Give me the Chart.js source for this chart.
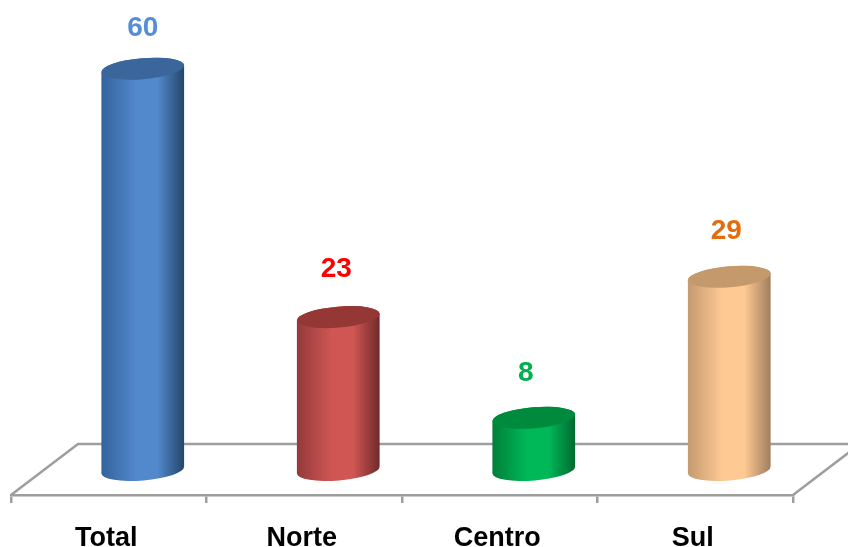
<!DOCTYPE html>
<html>
<head>
<meta charset="utf-8">
<style>html,body{margin:0;padding:0;background:#fff}canvas{display:block}</style>
<script src="https://cdn.jsdelivr.net/npm/chart.js@4/dist/chart.umd.js"></script>
</head>
<body>
<canvas id="c" width="848" height="547"></canvas>
<script>
const categories = ['Total', 'Norte', 'Centro', 'Sul'];
const values = [60, 23, 8, 29];
const labelColors = ['#558ED5', '#FF0000', '#00B050', '#E46C0A'];
const bodyMid = ['#5288CC', '#CF5653', '#00B858', '#FFC993'];
const bodyLeft = ['#33639B', '#93393A', '#007F3A', '#C49A70'];
const bodyRight = ['#234669', '#6F2A29', '#00692F', '#A07E5E'];
const topColors = ['#3A669C', '#953735', '#008A3E', '#C49A6C'];
const labelShiftX = [0, -2, -8, -3];
const labelShiftY = [-40, -48, -45, -46];

const DEPTH_X = 67, DEPTH_Y = 51, BAR_SHIFT = 34, BAR_TILT = -0.084, ELLIPSE_RY = 10.5, BASE_LIFT = 1.5;

Chart.BarElement.prototype.draw = function (ctx) {
  const i = this.$context.dataIndex;
  const cx = this.x + BAR_SHIFT, rx = this.width / 2;
  const topY = this.y, botY = this.base - BASE_LIFT;
  const g = ctx.createLinearGradient(cx - rx, 0, cx + rx, 0);
  g.addColorStop(0, bodyLeft[i]);
  g.addColorStop(0.42, bodyMid[i]);
  g.addColorStop(0.68, bodyMid[i]);
  g.addColorStop(1, bodyRight[i]);
  ctx.save();
  ctx.fillStyle = g;
  ctx.beginPath();
  ctx.ellipse(cx, topY, rx, ELLIPSE_RY, BAR_TILT, Math.PI, 0, false);
  ctx.ellipse(cx, botY, rx, ELLIPSE_RY, BAR_TILT, 0, Math.PI, false);
  ctx.closePath();
  ctx.fill();
  ctx.fillStyle = topColors[i];
  ctx.beginPath();
  ctx.ellipse(cx, topY, rx, ELLIPSE_RY, BAR_TILT, 0, Math.PI * 2);
  ctx.fill();
  ctx.restore();
};

const floorPlugin = {
  id: 'floor',
  beforeDatasetsDraw(chart) {
    const { ctx, scales: { x } } = chart;
    const y = x.top;
    ctx.save();
    ctx.strokeStyle = '#9E9E9E';
    ctx.lineWidth = 2.5;
    ctx.beginPath();
    ctx.moveTo(x.left, y);
    ctx.lineTo(x.left + DEPTH_X, y - DEPTH_Y);
    ctx.lineTo(x.right + DEPTH_X, y - DEPTH_Y);
    ctx.lineTo(x.right, y);
    ctx.stroke();
    ctx.restore();
  }
};

const valueLabels = {
  id: 'valueLabels',
  afterDatasetsDraw(chart) {
    const { ctx } = chart;
    ctx.save();
    ctx.font = 'bold 28px "Liberation Sans", Arial, sans-serif';
    ctx.textAlign = 'center';
    ctx.textBaseline = 'middle';
    chart.getDatasetMeta(0).data.forEach((el, i) => {
      ctx.fillStyle = labelColors[i];
      ctx.fillText(String(values[i]), el.x + BAR_SHIFT + labelShiftX[i], el.y + labelShiftY[i]);
    });
    ctx.restore();
  }
};

new Chart(document.getElementById('c'), {
  type: 'bar',
  data: {
    labels: categories,
    datasets: [{ data: values, barThickness: 83, backgroundColor: bodyMid }]
  },
  plugins: [floorPlugin, valueLabels],
  options: {
    responsive: false,
    animation: false,
    layout: { padding: { left: 11, right: 55, top: 15, bottom: 0 } },
    plugins: { legend: { display: false }, tooltip: { enabled: false } },
    scales: {
      x: {
        afterFit(s) { s.height = 52; },
        grid: { offset: true, drawOnChartArea: false, color: '#9E9E9E', lineWidth: 2.5, tickLength: 8 },
        border: { display: true, color: '#9E9E9E', width: 2.5 },
        ticks: {
          color: '#000',
          padding: 19,
          labelOffset: -2.5,
          maxRotation: 0,
          font: { family: '"Liberation Sans", Arial, sans-serif', size: 27, weight: 'bold' }
        }
      },
      y: { display: false, min: -3.5, max: 68 }
    }
  }
});
</script>
</body>
</html>
